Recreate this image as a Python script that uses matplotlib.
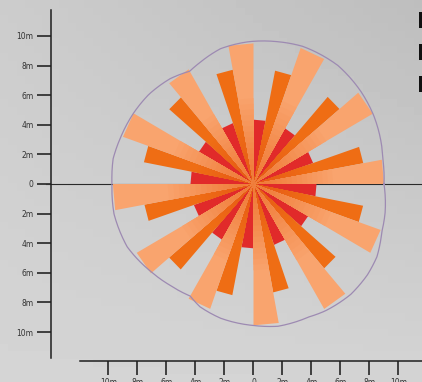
import numpy as np
import matplotlib.pyplot as plt
from matplotlib.patches import Polygon
from matplotlib.colors import to_rgb

# сектора зоны обнаружения: начальный угол (град) и дальность (м)
light_start = [0, 30, 60, 90, 120, 150, 180, 210, 240, 270, 300, 330]
light_len = [9.0, 9.5, 9.75, 9.5, 8.95, 9.55, 9.7, 9.3, 8.95, 9.55, 9.75, 9.3]
dark_start = [10.5, 40.5, 70.5, 100.5, 130.5, 160.5, 190.5, 220.5, 250.5, 280.5, 310.5, 340.5]
dark_len = [7.7, 7.8, 7.8, 7.85, 7.7, 7.7, 7.65, 7.65, 7.65, 7.45, 7.5, 7.7]
red_start = [19, 49, 79, 109, 139, 169, 199, 229, 259, 289, 319, 349]
red_len = [4.35] * 12

# контур зоны (угол, радиус в м)
outline_ang = [0, 10, 29, 40, 54, 70, 80, 92, 104, 114, 120, 129, 140, 150, 161,
               170, 180, 192, 206, 220, 230, 240, 246, 256, 270, 280, 293, 300,
               312, 322, 330, 340, 348, 360]
outline_r = [9.0, 9.07, 9.49, 9.69, 9.9, 9.9, 9.76, 9.62, 9.42, 9.01, 8.8, 9.15,
             9.42, 9.56, 9.69, 9.83, 9.76, 9.83, 9.69, 9.22, 8.94, 8.74, 9.08,
             9.35, 9.56, 9.76, 9.76, 9.9, 10.03, 9.97, 9.83, 9.42, 9.28, 9.0]

tick_vals = [-10, -8, -6, -4, -2, 0, 2, 4, 6, 8, 10]
tick_labels = ["10m", "8m", "6m", "4m", "2m", "0", "2m", "4m", "6m", "8m", "10m"]
side_labels = ["L", "M", "H"]

W, H = 422, 382
fig = plt.figure(figsize=(W / 100, H / 100), dpi=100)
ax = fig.add_axes([0, 0, 1, 1])

# пиксели -> метры
sx, sy = 14.5, 14.8
cx, cy = 253.5, 184
x0, x1 = (0 - cx) / sx, (W - cx) / sx
y0, y1 = (cy - H) / sy, cy / sy
ax.set_xlim(x0, x1)
ax.set_ylim(y0, y1)

# фон-градиент
gx = np.linspace(0, 1, 50)
gy = np.linspace(0, 1, 50)
GX, GY = np.meshgrid(gx, gy)
top = 0.80 - 0.055 * GX
bot = 0.835 - 0.005 * GX
grad = top * GY + bot * (1 - GY)
ax.imshow(grad, cmap='gray', vmin=0, vmax=1, extent=(x0, x1, y0, y1),
          origin='lower', aspect='auto', zorder=0)


def wedge(a, width, r, color, z):
    t = np.radians([a, a + width])
    pts = [(0, 0), (r * np.cos(t[0]), r * np.sin(t[0])), (r * np.cos(t[1]), r * np.sin(t[1]))]
    ax.add_patch(Polygon(pts, closed=True, facecolor=color, edgecolor='none', zorder=z))


def shaded_wedge(a, width, r, outer, inner, z, reach=0.6, steps=14):
    # плавный переход цвета к центру
    c_out, c_in = np.array(to_rgb(outer)), np.array(to_rgb(inner))
    wedge(a, width, r, outer, z)
    for k in range(1, steps + 1):
        f = k / steps
        col = c_out + (c_in - c_out) * f
        wedge(a, width, r * reach * (1 - 0.85 * f), tuple(col), z + 0.01 * k)


ax.plot([-14.3, x1], [0, 0], color='#2a2a2a', lw=0.8, zorder=1)

for a, r in zip(red_start, red_len):
    wedge(a, 11.5, r, '#e12a2a', 2)
for a, r in zip(dark_start, dark_len):
    shaded_wedge(a, 8.5, r, '#ef6d14', '#e65a16', 3, reach=0.55)
for a, r in zip(light_start, light_len):
    shaded_wedge(a, 10.5, r, '#f9a46e', '#f07c38', 4, reach=0.65)

# контур
ang = np.radians(np.linspace(0, 360, 721))
rr = np.interp(np.degrees(ang), outline_ang, outline_r)
ax.plot(rr * np.cos(ang), rr * np.sin(ang), color='#9d8ab2', lw=0.9, zorder=5)

# оси-линейки
for s in ['top', 'right']:
    ax.spines[s].set_visible(False)
ax.spines['left'].set_position(('data', (51 - cx) / sx))
ax.spines['left'].set_bounds((cy - 358) / sy, (cy - 10) / sy)
ax.spines['bottom'].set_position(('data', (cy - 361) / sy))
ax.spines['bottom'].set_bounds((80 - cx) / sx, x1)
for s in ['left', 'bottom']:
    ax.spines[s].set_linewidth(1.1)
    ax.spines[s].set_color('#1e1e1e')

ax.set_xticks(tick_vals)
ax.set_xticklabels(tick_labels)
ax.set_yticks(tick_vals)
ax.set_yticklabels(tick_labels[::-1])
ax.tick_params(axis='both', length=10, width=1.3, color='#333333',
               labelsize=5.5, labelcolor='#333333', pad=2.5)

for i, t in enumerate(side_labels):
    fig.text(417 / W, 1 - (21.5 + 32.5 * i) / H, t, fontsize=16, fontweight='bold',
             ha='left', va='center', color='#111111')

fig.savefig('out.png', dpi=100)
